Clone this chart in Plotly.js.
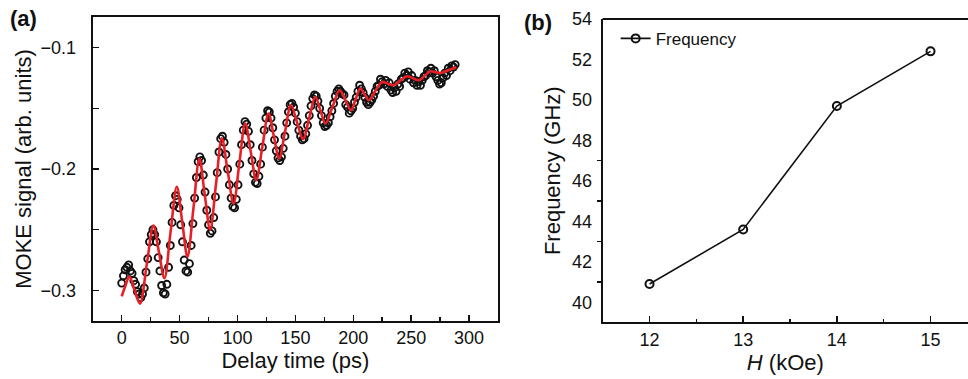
<!DOCTYPE html>
<html><head><meta charset="utf-8">
<script src="https://cdn.plot.ly/plotly-3.0.1.min.js"></script>
<style>html,body{margin:0;padding:0;background:#fff}#chart{width:968px;height:379px}</style>
</head><body><div id="chart"></div>
<script>
// ---- Panel (a): MOKE signal vs delay time ----
const delayStart = 0;      // ps, first sample
const delayStep = 1.5;     // ps between samples
const mokeSignal = [
 -0.294,-0.288,-0.283,-0.281,-0.279,-0.284,-0.286,-0.292,-0.295,-0.301,-0.303,-0.306,
 -0.303,-0.298,-0.285,-0.274,-0.260,-0.254,
 -0.250,-0.254,-0.260,-0.273,-0.284,-0.296,-0.302,
 -0.303,-0.295,-0.281,-0.263,-0.244,-0.230,-0.222,
 -0.225,-0.232,-0.246,-0.260,-0.275,-0.284,
 -0.285,-0.278,-0.263,-0.245,-0.224,-0.207,-0.194,-0.190,
 -0.193,-0.205,-0.219,-0.234,-0.246,-0.253,
 -0.251,-0.240,-0.223,-0.203,-0.186,-0.175,
 -0.173,-0.178,-0.188,-0.200,-0.213,-0.224,-0.231,
 -0.232,-0.225,-0.213,-0.196,-0.180,-0.168,-0.161,
 -0.163,-0.169,-0.180,-0.193,-0.204,-0.211,
 -0.212,-0.206,-0.196,-0.182,-0.168,-0.158,-0.152,
 -0.153,-0.158,-0.166,-0.176,-0.185,-0.191,-0.193,
 -0.190,-0.183,-0.173,-0.162,-0.153,-0.147,
 -0.146,-0.149,-0.154,-0.161,-0.168,-0.173,-0.176,
 -0.175,-0.171,-0.164,-0.156,-0.148,-0.142,-0.139,
 -0.140,-0.144,-0.150,-0.156,-0.162,-0.165,
 -0.164,-0.162,-0.157,-0.152,-0.146,-0.140,-0.136,-0.134,
 -0.136,-0.138,-0.139,-0.147,-0.149,-0.154,
 -0.152,-0.150,-0.145,-0.141,-0.136,-0.131,
 -0.134,-0.137,-0.141,-0.145,-0.147,
 -0.145,-0.143,-0.140,-0.136,-0.132,-0.131,-0.126,
 -0.128,-0.130,-0.127,-0.132,-0.129,-0.135,-0.137,-0.133,
 -0.136,-0.130,-0.132,-0.126,-0.125,-0.121,
 -0.123,-0.120,-0.126,-0.123,-0.129,-0.127,-0.131,-0.128,
 -0.131,-0.127,-0.124,-0.123,-0.119,-0.120,
 -0.117,-0.121,-0.119,-0.124,-0.127,-0.130,
 -0.129,-0.125,-0.121,-0.123,-0.117,-0.119,-0.115,-0.116,-0.114
];
const fitTime = [0,3.3,6.6,11.2,15.8,21.6,27.4,32.1,36.9,42.2,47.6,52.2,56.8,62,67.1,71.7,76.4,81.5,86.5,91.5,96.6,101.6,106.7,111.5,116.2,121.5,126.8,131.4,136,141.1,146.2,151.4,156.6,161.9,167.2,171.5,175.9,182,188.2,193.1,198.1,202,206.1,209.7,213.3,219,224.9,230,235,240.7,246.5,251.5,256.6,261.6,266.7,271,275.3,282,289];
const fitSignal = [-0.305,-0.296,-0.2886,-0.300,-0.311,-0.279,-0.2467,-0.268,-0.290,-0.252,-0.2146,-0.243,-0.2722,-0.232,-0.1915,-0.221,-0.250,-0.212,-0.1748,-0.2015,-0.2283,-0.1955,-0.1625,-0.186,-0.2091,-0.1815,-0.1543,-0.173,-0.1913,-0.169,-0.1475,-0.1615,-0.1754,-0.158,-0.1406,-0.1515,-0.1625,-0.149,-0.1351,-0.143,-0.1516,-0.1425,-0.1337,-0.1385,-0.1433,-0.1358,-0.1283,-0.1297,-0.131,-0.127,-0.1236,-0.1252,-0.1269,-0.1232,-0.1195,-0.1202,-0.1209,-0.1187,-0.1162];

// ---- Panel (b): frequency vs field ----
const fieldKOe = [12, 13, 14, 15];
const frequencyGHz = [40.9, 43.6, 49.7, 52.4];
const freqTickVals = [40, 42, 44, 46, 48, 50, 52, 54];
const freqMinorTicks = [41, 43, 45, 47];
const fieldTickVals = [12, 13, 14, 15];

const INK = '#111';
const FONT = '"Liberation Sans", Arial, sans-serif';

const traces = [
  {type:'scatter', mode:'markers', x0:delayStart, dx:delayStep, y:mokeSignal,
   xaxis:'x', yaxis:'y', showlegend:false, cliponaxis:true,
   marker:{symbol:'circle-open', size:7, color:INK, line:{width:1.9, color:INK}}},
  {type:'scatter', mode:'lines', x:fitTime, y:fitSignal, xaxis:'x', yaxis:'y', showlegend:false,
   line:{color:'rgb(232,32,38)', width:2.6, shape:'spline', smoothing:1}},
  {type:'scatter', mode:'lines+markers', name:'Frequency', x:fieldKOe, y:frequencyGHz,
   xaxis:'x2', yaxis:'y2', showlegend:true,
   line:{color:INK, width:1.6},
   marker:{symbol:'circle-open', size:8, color:INK, line:{width:2, color:INK}}}
];

const axisBase = {showgrid:false, zeroline:false, showline:true, linewidth:2, linecolor:INK,
  tickcolor:INK, tickwidth:1.5, tickfont:{size:18, family:FONT, color:INK}};

const layout = {
  width:968, height:379,
  margin:{l:0, r:0, t:0, b:0},
  paper_bgcolor:'#fff', plot_bgcolor:'#fff',
  font:{family:FONT, color:INK, size:18},
  showlegend:true,
  legend:{x:0.636, y:0.945, xanchor:'left', yanchor:'top', bgcolor:'rgba(0,0,0,0)',
          font:{size:17, family:FONT, color:INK}, itemwidth:30},
  xaxis:Object.assign({}, axisBase, {domain:[0.0958,0.5145], anchor:'y', range:[-25,325],
     tickmode:'linear', tick0:0, dtick:50, ticks:'inside', ticklen:6, mirror:true,
     minor:{tickmode:'linear', tick0:0, dtick:25, ticks:'inside', ticklen:3.5, tickwidth:1.5, tickcolor:INK},
     title:{text:'Delay time (ps)', font:{size:22, family:FONT, color:INK}, standoff:4}}),
  yaxis:Object.assign({}, axisBase, {domain:[0.1538,0.9544], anchor:'x', range:[-0.325,-0.075],
     tickmode:'linear', tick0:0, dtick:0.1, tickformat:'.1f', ticks:'inside', ticklen:6, mirror:true,
     ticklabelstandoff:11,
     minor:{tickmode:'linear', tick0:0, dtick:0.05, ticks:'inside', ticklen:6, tickwidth:1.5, tickcolor:INK},
     title:{text:'MOKE signal (arb. units)', font:{size:22, family:FONT, color:INK}, standoff:3}}),
  xaxis2:Object.assign({}, axisBase, {domain:[0.6226,1], anchor:'y2', range:[11.5,15.4],
     tickmode:'array', tickvals:fieldTickVals, ticks:'inside', ticklen:6,
     minor:{tickmode:'linear', tick0:11.5, dtick:1, ticks:'inside', ticklen:3.5, tickwidth:1.5, tickcolor:INK},
     title:{text:'<i>H</i> (kOe)', font:{size:22, family:FONT, color:INK}, standoff:4}}),
  yaxis2:Object.assign({}, axisBase, {domain:[0.1491,0.9499], anchor:'x2', range:[39,54],
     tickmode:'array', tickvals:freqTickVals, ticks:'', ticklabelstandoff:5,
     minor:{tickmode:'array', tickvals:freqMinorTicks, ticks:'outside', ticklen:4, tickwidth:1.5, tickcolor:INK},
     title:{text:'Frequency (GHz)', font:{size:22, family:FONT, color:INK}, standoff:5}}),
  shapes:[
    {type:'line', xref:'x2 domain', yref:'y2 domain', x0:0, x1:1, y0:1, y1:1, line:{color:INK, width:2}}
  ],
  annotations:[
    {text:'<b>(a)</b>', xref:'paper', yref:'paper', x:8/968, y:1-18/379, xanchor:'left', yanchor:'middle',
     showarrow:false, font:{size:22, family:FONT, color:INK}},
    {text:'<b>(b)</b>', xref:'paper', yref:'paper', x:522/968, y:1-22/379, xanchor:'left', yanchor:'middle',
     showarrow:false, font:{size:22, family:FONT, color:INK}}
  ]
};

Plotly.newPlot('chart', traces, layout, {displayModeBar:false, staticPlot:true});
</script>
</body></html>
